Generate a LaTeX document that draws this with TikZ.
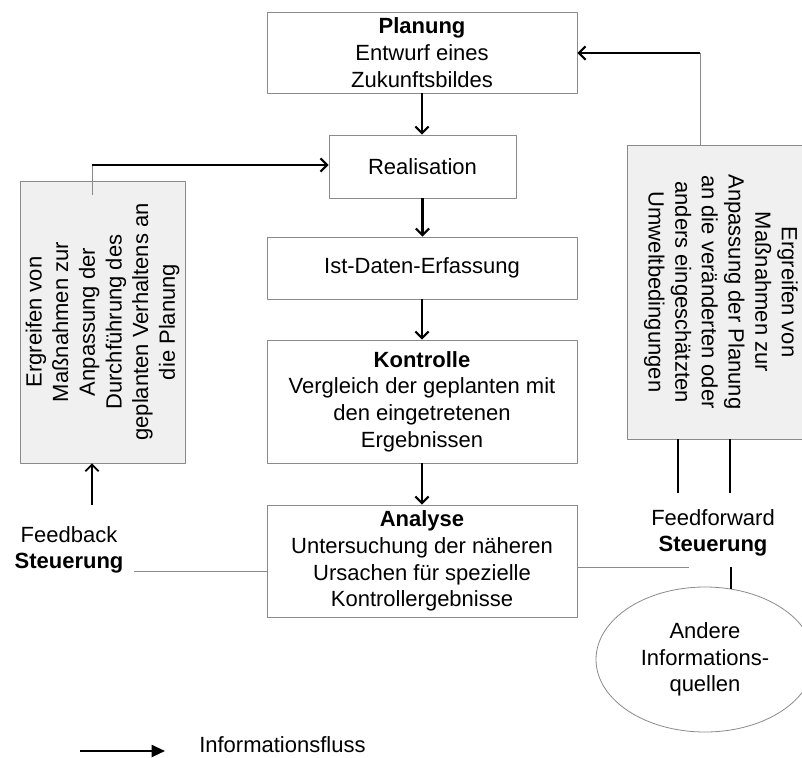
\documentclass[tikz,border=0pt]{standalone}
\usepackage{fontspec}
\setmainfont{Liberation Sans}
\usetikzlibrary{arrows.meta,shapes.geometric}

\definecolor{boxgray}{HTML}{8A8A8A}
\definecolor{boxfill}{HTML}{F0F0F0}

\begin{document}
\begin{tikzpicture}[x=0.75pt, y=-0.75pt, line join=round,
		txt/.style={align=center, font=\fontsize{16.5}{20}\selectfont},
		box/.style={txt, draw=boxgray, line width=0.6pt, inner sep=0pt},
		greybox/.style={box, fill=boxfill},
		flow/.style={line width=1.6pt, -{Straight Barb[length=5pt,width=10pt]}},
		linkline/.style={draw=boxgray, line width=0.6pt},
		conn/.style={line width=1.4pt},
		legarrow/.style={line width=1.5pt, -{Triangle[length=10pt,width=9pt]}}]
			
			% Page frame
			\path[use as bounding box, clip] (0,0) rectangle (802,757);
			
			% Main chain
			\node[box, minimum width=232.5pt, minimum height=60.75pt] (plan) at (422,52.5) {\textbf{Planung}\\Entwurf eines\\Zukunftsbildes};
			\node[box, minimum width=140.25pt, minimum height=47.25pt] (real) at (422.5,166.5) {Realisation};
			\node[box, minimum width=232.5pt, minimum height=46.5pt] (ist) at (422,268) {Ist-Daten-Erfassung};
			\node[box, minimum width=232.5pt, minimum height=92.25pt] (kontr) at (422,401.5) {\textbf{Kontrolle}\\Vergleich der geplanten mit\\den eingetretenen\\Ergebnissen};
			\node[box, minimum width=232.5pt, minimum height=84pt] (ana) at (422,561) {\textbf{Analyse}\\Untersuchung der n\"aheren\\Ursachen f\"ur spezielle\\Kontrollergebnisse};
			
			\draw[flow] (plan.south) -- (plan.south |- real.north);
			\draw[flow] (real.south) -- (real.south |- ist.north);
			\draw[flow] (ist.south) -- (kontr.north);
			\draw[flow] (kontr.south) -- (ana.north);
			
			% Feedback side (text reads upwards)
			\node[greybox, rotate=90, minimum width=211.5pt, minimum height=123.75pt] (lbox) at (102.5,322) {Ergreifen von\\Ma\ss nahmen zur\\Anpassung der\\Durchf\"uhrung des\\geplanten Verhaltens an\\die Planung};
			\node[txt] (fbs) at (69,550) {Feedback\\\textbf{Steuerung}};
			
			\coordinate (fbstart) at (92,195);
			\coordinate (fbtop) at (92,165);
			\draw[linkline] (fbstart) -- (fbtop);
			\draw[flow] (fbtop) -- (fbtop -| real.west);
			
			\coordinate (fbup) at (92,505);
			\draw[flow, line width=1.3pt] (fbup) -- (fbup |- lbox.west);
			
			\coordinate (fbend) at (134,571);
			\draw[linkline] (fbend) -- (fbend -| ana.west);
			
			% Feedforward side (text reads downwards)
			\node[greybox, rotate=-90, minimum width=220.5pt, minimum height=141pt] (rbox) at (721,292) {Ergreifen von\\Ma\ss nahmen zur\\Anpassung der Planung\\an die ver\"anderten oder\\anders eingesch\"atzten\\Umweltbedingungen};
			\node[txt] (ffs) at (713,533) {Feedforward\\\textbf{Steuerung}};
			\node[draw=boxgray, line width=0.6pt, ellipse, txt, inner sep=0pt, minimum width=163.5pt, minimum height=108.75pt] (ell) at (705,659.5) {Andere\\Informations-\\quellen};
			
			\coordinate (fftop) at (700,53);
			\draw[linkline] (fftop |- rbox.west) -- (fftop);
			\draw[flow] (fftop) -- (fftop -| plan.east);
			
			\coordinate (ffa) at (678,493);
			\coordinate (ffb) at (730,493);
			\draw[conn] (ffa |- rbox.east) -- (ffa);
			\draw[conn] (ffb |- rbox.east) -- (ffb);
			
			\coordinate (ffend) at (689,567);
			\draw[linkline] (ana.east |- ffend) -- (ffend);
			
			\coordinate (ffdown) at (731,567);
			\draw[conn] (ffdown) -- (ffdown |- ell.70);
			
			% Legend
			\coordinate (lgA) at (80,751);
			\coordinate (lgB) at (165,751);
			\draw[legarrow] (lgA) -- (lgB);
			\node[txt, anchor=west, inner sep=0pt] (lgtxt) at (199,745) {Informationsfluss};
			
		\end{tikzpicture}
\end{document}
